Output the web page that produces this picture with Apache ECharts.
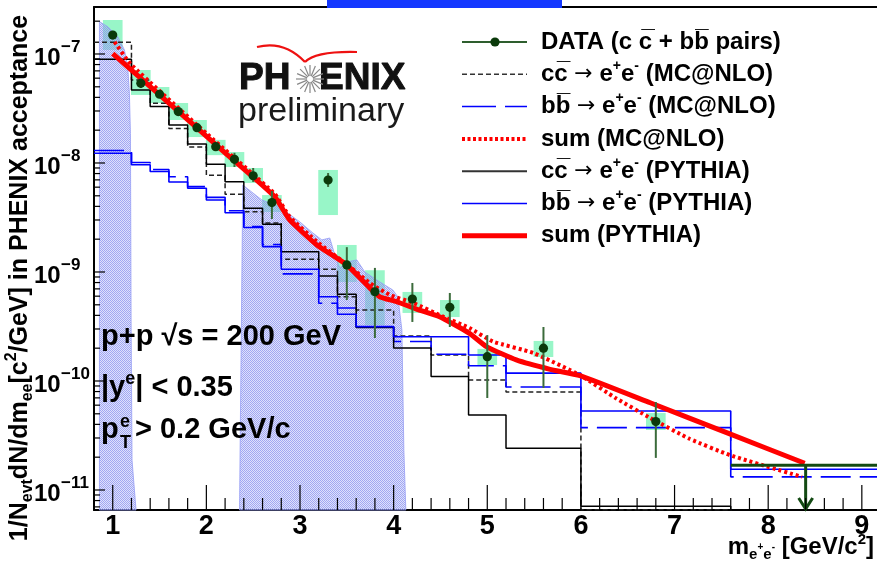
<!DOCTYPE html>
<html><head><meta charset="utf-8">
<script src="https://cdn.jsdelivr.net/npm/echarts@6.0.0/dist/echarts.min.js"></script>
<style>html,body{margin:0;padding:0;background:#fff}#c{width:877px;height:565px}</style>
</head><body><div id="c"></div>
<script>
// ---------------- data ----------------
const binEdges = [0.8,1.2,1.4,1.6,1.8,2.0,2.2,2.4,2.6,2.8,3.2,3.4,3.6,4.0,4.4,4.8,5.2,6.0,7.6,9.2];
const ccPythia = [8.93e-8,4.68e-8,3.29e-8,2.23e-8,1.49e-8,9.73e-9,6.73e-9,3.84e-9,2.74e-9,1.53e-9,9.19e-10,6.24e-10,3.10e-10,2.01e-10,1.10e-10,4.88e-11,2.41e-11,7.1e-12,1e-13];
const ccMCNLO  = [1.28e-7,5.77e-8,3.53e-8,2.07e-8,1.40e-8,7.71e-9,5.16e-9,3.57e-9,2.82e-9,1.31e-9,1.06e-9,5.93e-10,4.48e-10,2.59e-10,1.73e-10,1.02e-10,7.93e-11,6.6e-12,1e-13];
const bbMCNLO  = [1.30e-8,1.01e-8,8.71e-9,7.48e-9,6.07e-9,4.84e-9,3.65e-9,2.61e-9,1.79e-9,9.60e-10,5.16e-10,4.68e-10,3.13e-10,2.30e-10,1.76e-10,1.38e-10,8.81e-11,3.73e-11,1.32e-11];
const bbPythia = [1.23e-8,9.64e-9,8.36e-9,6.70e-9,5.86e-9,4.58e-9,3.50e-9,2.56e-9,1.71e-9,1.06e-9,5.93e-10,4.09e-10,3.15e-10,2.55e-10,2.55e-10,1.73e-10,1.18e-10,5.31e-11,1.55e-11];

const sumPythiaM = [1.0,1.6,2.2,2.73,2.89,3.18,3.50,3.75,3.85,4.03,4.25,4.49,4.81,4.99,5.31,5.67,5.99,6.74,7.59,8.39];
const sumPythiaV = [1.01e-7,3.54e-8,1.24e-8,4.91e-9,3.0e-9,1.77e-9,1.16e-9,7.08e-10,5.93e-10,5.34e-10,4.55e-10,3.89e-10,2.74e-10,2.07e-10,1.56e-10,1.28e-10,1.12e-10,6.31e-11,3.27e-11,1.76e-11];
const sumMCNLOM = [1.02,1.19,2.0,2.73,2.89,3.18,3.53,3.75,3.96,4.21,4.53,4.81,5.06,5.49,5.99,6.38,6.74,7.16,7.59,8.36];
const sumMCNLOV = [1.29e-7,8.1e-8,1.87e-8,5.2e-9,3.21e-9,1.90e-9,1.12e-9,7.87e-10,6.15e-10,5.2e-10,3.89e-10,3.06e-10,2.30e-10,1.81e-10,1.13e-10,6.90e-11,4.58e-11,2.95e-11,2.09e-11,1.32e-11];

const dataM  = [1.0,1.3,1.5,1.7,1.9,2.1,2.3,2.5,2.7,3.3,3.5,3.8,4.2,4.6,5.0,5.6,6.8];
const dataV  = [1.49e-7,5.38e-8,4.27e-8,2.96e-8,2.11e-8,1.41e-8,1.08e-8,7.64e-9,4.33e-9,6.98e-9,1.16e-9,6.59e-10,5.65e-10,4.74e-10,1.67e-10,2.0e-10,4.24e-11];
const statLo = [1.37e-7,4.88e-8,3.99e-8,2.77e-8,1.98e-8,1.32e-8,9.19e-9,6.70e-9,3.06e-9,6.03e-9,5.53e-10,2.48e-10,3.48e-10,3.13e-10,6.98e-11,8.63e-11,1.97e-11];
const statHi = [1.63e-7,6.03e-8,4.58e-8,3.15e-8,2.25e-8,1.50e-8,1.24e-8,9.0e-9,5.53e-9,8.09e-9,1.69e-9,1.09e-9,7.93e-10,6.42e-10,2.64e-10,3.13e-10,6.41e-11];
const sysLo  = [1.09e-7,4.21e-8,3.55e-8,2.48e-8,1.73e-8,1.18e-8,9.19e-9,6.56e-9,3.55e-9,3.33e-9,8.09e-10,3.27e-10,4.21e-10,3.86e-10,1.40e-10,1.66e-10,3.55e-11];
const sysHi  = [2.05e-7,7.13e-8,4.98e-8,3.55e-8,2.48e-8,1.63e-8,1.26e-8,9.0e-9,5.08e-9,8.63e-9,1.77e-9,1.04e-9,6.56e-10,5.53e-10,1.97e-10,2.33e-10,5.08e-11];

const upperLimitM = [7.6, 9.2];
const upperLimitV = 1.69e-11;
const upperLimitArrowM = 8.4;

// shaded (excluded) regions, top outline (null = down to the axis)
const fill1M = [0.858,0.947,1.053,1.125,1.160,1.178,1.189,1.196,1.206,1.249];
const fill1V = [1.98e-7,1.78e-7,1.44e-7,1.09e-7,7.64e-8,4.36e-8,1.87e-8,3.63e-10,1.88e-11,null];
const fill2M = [2.354,2.389,2.592,2.784,2.998,3.137,3.233,3.318,3.372,3.425,3.511,3.607,3.692,3.853,3.991,4.045,4.088,4.109,4.13];
const fill2V = [null,6.28e-9,4.58e-9,3.94e-9,2.88e-9,2.28e-9,1.97e-9,2.05e-9,1.43e-9,1.09e-9,1.24e-9,1.29e-9,1.0e-9,8.09e-10,6.84e-10,5.90e-10,2.94e-10,2.33e-11,null];

const xTickLabels = ['1','2','3','4','5','6','7','8','9'];
const yTickExponents = [-11,-10,-9,-8,-7];

// ---------------- setup ----------------
const xMin = 0.8, xMax = 9.162, yMin = 6.553e-12, yMax = 2.698e-7;
const FONT = "'Liberation Sans', Arial, Helvetica, sans-serif";

function histData(edges, vals){
  const d = [];
  for (let i = 0; i < vals.length; i++) d.push([edges[i], vals[i]]);
  d.push([edges[edges.length-1], vals[vals.length-1]]);
  return d;
}
function zip(a,b){ return a.map((v,i)=>[v,b[i]]); }

// checkered fill texture like the ROOT hatch
const pc = document.createElement('canvas');
pc.width = 2; pc.height = 2;
const pcx = pc.getContext('2d');
pcx.fillStyle = 'rgba(175,181,248,0.40)'; pcx.fillRect(0,0,2,2);
pcx.fillStyle = 'rgba(125,133,238,0.62)'; pcx.fillRect(0,0,1,1); pcx.fillRect(1,1,1,1);
const hatchFill = {type:'pattern', image:pc, repeat:'repeat'};

const chart = echarts.init(document.getElementById('c'), null, {renderer:'canvas'});
const axisLineStyle = {color:'#000', width:2};

function polyPts(api, M, V){
  return M.map((m,i)=>api.coord([m, V[i] == null ? yMin : V[i]]));
}

const option = {
  animation: false,
  backgroundColor: '#fff',
  grid: {left:94, top:7, width:783, height:503, containLabel:false},
  xAxis: [
    {type:'value', min:xMin, max:xMax, position:'bottom',
     axisLine:{show:true, onZero:false, lineStyle:axisLineStyle}, axisTick:{show:false}, axisLabel:{show:false}, splitLine:{show:false}},
    {type:'value', min:xMin, max:xMax, position:'top',
     axisLine:{show:true, onZero:false, lineStyle:axisLineStyle}, axisTick:{show:false}, axisLabel:{show:false}, splitLine:{show:false}}
  ],
  yAxis: {type:'log', logBase:10, min:yMin, max:yMax,
     axisLine:{show:true, onZero:false, lineStyle:axisLineStyle}, axisTick:{show:false}, axisLabel:{show:false}, splitLine:{show:false}},
  series: [
    // systematic boxes
    {type:'custom', z:1, silent:true,
     data: dataM.map((m,i)=>[m, dataV[i], sysLo[i], sysHi[i]]),
     renderItem:(params, api)=>{
       const m = api.value(0);
       const p1 = api.coord([m-0.105, api.value(3)]);
       const p2 = api.coord([m+0.105, api.value(2)]);
       return {type:'rect', shape:{x:p1[0], y:p1[1], width:p2[0]-p1[0], height:p2[1]-p1[1]}, style:{fill:'#98f6c8'}};
     }},
    // shaded regions
    {type:'custom', z:2, silent:true, data:[[1,1e-9]],
     renderItem:(params, api)=>{
       const a = polyPts(api, fill1M, fill1V);
       a.unshift(api.coord([fill1M[0], yMin]));
       const b = polyPts(api, fill2M, fill2V);
       const st = {fill:hatchFill, stroke:'rgba(150,158,245,0.8)', lineWidth:1};
       return {type:'group', children:[
         {type:'polygon', shape:{points:a}, style:st},
         {type:'polygon', shape:{points:b}, style:st}
       ]};
     }},
    {name:'ccMCNLO', type:'line', z:3, step:'end', symbol:'none', silent:true, data:histData(binEdges, ccMCNLO),
     lineStyle:{color:'#222', width:1.5, type:[5,3]}},
    {name:'bbMCNLO', type:'line', z:3, step:'end', symbol:'none', silent:true, data:histData(binEdges, bbMCNLO),
     lineStyle:{color:'#0000ff', width:1.6, type:[30,9]}},
    {name:'ccPythia', type:'line', z:3, step:'end', symbol:'none', silent:true, data:histData(binEdges, ccPythia),
     lineStyle:{color:'#000', width:1.5}},
    {name:'bbPythia', type:'line', z:3, step:'end', symbol:'none', silent:true, data:histData(binEdges, bbPythia),
     lineStyle:{color:'#0000ff', width:1.6}},
    {name:'sumMCNLO', type:'line', z:4, smooth:0.15, symbol:'none', silent:true, data:zip(sumMCNLOM, sumMCNLOV),
     lineStyle:{color:'#ff0000', width:4, type:[3,3]}},
    {name:'sumPythia', type:'line', z:4, smooth:0.15, symbol:'none', silent:true, data:zip(sumPythiaM, sumPythiaV),
     lineStyle:{color:'#ff0000', width:5}},
    // upper limit
    {type:'line', z:5, symbol:'none', silent:true, data:upperLimitM.map(m=>[m, upperLimitV]),
     lineStyle:{color:'#134a13', width:3}},
    {type:'custom', z:5, silent:true, data:[[upperLimitArrowM, upperLimitV]],
     renderItem:(params, api)=>{
       const t = api.coord([api.value(0), api.value(1)]);
       const b = api.coord([api.value(0), yMin]);
       return {type:'group', children:[
         {type:'line', shape:{x1:t[0], y1:t[1], x2:b[0], y2:b[1]-1}, style:{stroke:'#134a13', lineWidth:3}},
         {type:'polyline', shape:{points:[[b[0]-7,b[1]-12],[b[0],b[1]-1],[b[0]+7,b[1]-12]]}, style:{stroke:'#134a13', lineWidth:3, fill:null}}
       ]};
     }},
    // data points with stat errors
    {type:'custom', z:6, silent:true,
     data: dataM.map((m,i)=>[m, dataV[i], statLo[i], statHi[i]]),
     renderItem:(params, api)=>{
       const m = api.value(0);
       const c = api.coord([m, api.value(1)]);
       const lo = api.coord([m, api.value(2)]);
       const hi = api.coord([m, api.value(3)]);
       return {type:'group', children:[
         {type:'line', shape:{x1:c[0], y1:hi[1], x2:c[0], y2:lo[1]}, style:{stroke:'#3b6b3b', lineWidth:2}},
         {type:'circle', shape:{cx:c[0], cy:c[1], r:4.6}, style:{fill:'#0b3a0b'}}
       ]};
     }},
    // axis ticks and labels
    {type:'custom', z:7, silent:true, data:[[1,1e-9]],
     renderItem:(params, api)=>{
       const ch = [];
       const ln = (x1,y1,x2,y2)=>ch.push({type:'line', shape:{x1,y1,x2,y2}, style:{stroke:'#000', lineWidth:1.2}});
       for (let i = 4; i <= 46; i++) {
         const v = i*0.2;
         if (v > xMax) break;
         const p = api.coord([v, yMin]);
         const major = (i % 5 === 0);
         ln(p[0], p[1], p[0], p[1] - (major ? 25 : 12));
       }
       xTickLabels.forEach(s=>{
         const p = api.coord([+s, yMin]);
         ch.push({type:'text', x:p[0], y:p[1]+17, style:{text:s, font:'bold 27px '+FONT, fill:'#000', align:'center', verticalAlign:'middle'}});
       });
       for (let n = -12; n <= -7; n++) {
         for (let k = 1; k <= 9; k++) {
           const v = k*Math.pow(10,n);
           if (v < yMin || v > yMax) continue;
           const p = api.coord([xMin, v]);
           ln(p[0], p[1], p[0] + (k===1 ? 11 : 6), p[1]);
         }
       }
       yTickExponents.forEach(n=>{
         const p = api.coord([xMin, Math.pow(10,n)]);
         ch.push({type:'text', x:34, y:p[1]+4, style:{text:'10', font:'bold 24px '+FONT, fill:'#000', align:'left', verticalAlign:'middle'}});
         ch.push({type:'text', x:61, y:p[1]-7, style:{text:'\u2212'+(-n), font:'bold 17px '+FONT, fill:'#000', align:'left', verticalAlign:'middle'}});
       });
       return {type:'group', children:ch};
     }}
  ],
  graphic: []
};

// ----- legend (drawn) -----
const legendRows = [
  '{t|DATA (c c\u0305 + bb\u0305 pairs)}',
  '{t|cc\u0305 }{a|\u2192}{t| e}{s|+}{t|e}{s|-}{t| (MC@NLO)}',
  '{t|bb\u0305 }{a|\u2192}{t| e}{s|+}{t|e}{s|-}{t| (MC@NLO)}',
  '{t|sum (MC@NLO)}',
  '{t|cc\u0305 }{a|\u2192}{t| e}{s|+}{t|e}{s|-}{t| (PYTHIA)}',
  '{t|bb\u0305 }{a|\u2192}{t| e}{s|+}{t|e}{s|-}{t| (PYTHIA)}',
  '{t|sum (PYTHIA)}'
];
const legendLine = [
  {stroke:'#2e5e2e', lineWidth:2},
  {stroke:'#333', lineWidth:1.5, lineDash:[5,3]},
  {stroke:'#0000ff', lineWidth:1.5, lineDash:[34,9]},
  {stroke:'#ff0000', lineWidth:4, lineDash:[3,2.5]},
  {stroke:'#333', lineWidth:2},
  {stroke:'#0000ff', lineWidth:1.5},
  {stroke:'#ff0000', lineWidth:5}
];
const richLeg = {
  t:{fontSize:24, fontWeight:'bold', fontFamily:FONT, lineHeight:30, fill:'#000'},
  a:{fontSize:22, fontWeight:'normal', fontFamily:"'DejaVu Sans', sans-serif", lineHeight:30, fill:'#000'},
  s:{fontSize:14, fontWeight:'bold', fontFamily:FONT, lineHeight:16, verticalAlign:'top', fill:'#000'}
};
const G = option.graphic;
legendRows.forEach((txt,i)=>{
  const y = 42 + i*32.3;
  G.push({type:'line', z:10, shape:{x1:462, y1:y, x2:527, y2:y}, style:legendLine[i]});
  if (i === 0) G.push({type:'circle', z:10, shape:{cx:495, cy:y, r:4.6}, style:{fill:'#0b3a0b'}});
  G.push({type:'text', z:10, x:541, y:y, style:{text:txt, rich:richLeg, align:'left', verticalAlign:'middle'}});
});

// annotations
G.push({type:'text', z:10, x:101, y:337, style:{text:'p+p \u221As = 200 GeV', font:'bold 29px '+FONT, fill:'#000', align:'left', verticalAlign:'middle'}});
G.push({type:'text', z:10, x:101, y:388, style:{text:'{t||y}{s|e}{t|| < 0.35}', align:'left', verticalAlign:'middle',
  rich:{t:{fontSize:29, fontWeight:'bold', fontFamily:FONT, lineHeight:36}, s:{fontSize:18, fontWeight:'bold', fontFamily:FONT, lineHeight:18, verticalAlign:'top'}}}});
G.push({type:'text', z:10, x:101, y:430, style:{text:'p', font:'bold 29px '+FONT, fill:'#000', align:'left', verticalAlign:'middle'}});
G.push({type:'text', z:10, x:120, y:443, style:{text:'T', font:'bold 18px '+FONT, fill:'#000', align:'left', verticalAlign:'middle'}});
G.push({type:'text', z:10, x:120, y:422, style:{text:'e', font:'bold 18px '+FONT, fill:'#000', align:'left', verticalAlign:'middle'}});
G.push({type:'text', z:10, x:135, y:430, style:{text:'> 0.2 GeV/c', font:'bold 29px '+FONT, fill:'#000', align:'left', verticalAlign:'middle'}});

// axis titles
G.push({type:'text', z:10, x:874, y:547, style:{text:'{t|m}{b|e}{c|+}{b|e}{c|-}{t| [GeV/c}{s|2}{t|]}', align:'right', verticalAlign:'middle',
  rich:{t:{fontSize:24, fontWeight:'bold', fontFamily:FONT, lineHeight:30},
        b:{fontSize:15, fontWeight:'bold', fontFamily:FONT, lineHeight:16, verticalAlign:'bottom'},
        c:{fontSize:10, fontWeight:'bold', fontFamily:FONT, lineHeight:30},
        s:{fontSize:15, fontWeight:'bold', fontFamily:FONT, lineHeight:16, verticalAlign:'top'}}}});
G.push({type:'text', z:10, x:20, y:278, rotation:Math.PI/2,
  style:{text:'{t|1/N}{b|evt}{t|dN/dm}{b|ee}{t|[c}{s|2}{t|/GeV] in PHENIX acceptance}', align:'center', verticalAlign:'middle',
  rich:{t:{fontSize:25, fontWeight:'bold', fontFamily:FONT, lineHeight:32},
        b:{fontSize:16, fontWeight:'bold', fontFamily:FONT, lineHeight:16, verticalAlign:'bottom'},
        s:{fontSize:16, fontWeight:'bold', fontFamily:FONT, lineHeight:16, verticalAlign:'top'}}}});

// PHENIX logo
G.push({type:'bezierCurve', z:10, shape:{x1:257, y1:47, cpx1:284, cpy1:40, x2:305, y2:62}, style:{stroke:'#ee1111', lineWidth:2.2, fill:null}});
G.push({type:'bezierCurve', z:10, shape:{x1:305, y1:62, cpx1:316, cpy1:51, x2:357, y2:52}, style:{stroke:'#ee1111', lineWidth:2.2, fill:null}});
G.push({type:'text', z:10, x:239, y:79, style:{text:'PH', font:'bold 37px '+FONT, fill:'#111', stroke:'#111', lineWidth:1, align:'left', verticalAlign:'middle'}});
G.push({type:'text', z:10, x:319, y:79, style:{text:'ENIX', font:'bold 37px '+FONT, fill:'#111', stroke:'#111', lineWidth:1, align:'left', verticalAlign:'middle'}});
for (let k = 0; k < 16; k++) {
  const a = k*Math.PI/8;
  G.push({type:'line', z:10, shape:{x1:310+3*Math.cos(a), y1:79+3*Math.sin(a), x2:310+14*Math.cos(a), y2:79+14*Math.sin(a)}, style:{stroke:'#888', lineWidth:1.2}});
}
G.push({type:'text', z:10, x:238, y:112, style:{text:'preliminary', font:'34px '+FONT, fill:'#1a1a1a', align:'left', verticalAlign:'middle'}});

// blue bar at the top edge
G.push({type:'rect', z:10, shape:{x:327, y:0, width:235, height:8}, style:{fill:'#1438ff'}});

chart.setOption(option);
</script>
</body></html>
